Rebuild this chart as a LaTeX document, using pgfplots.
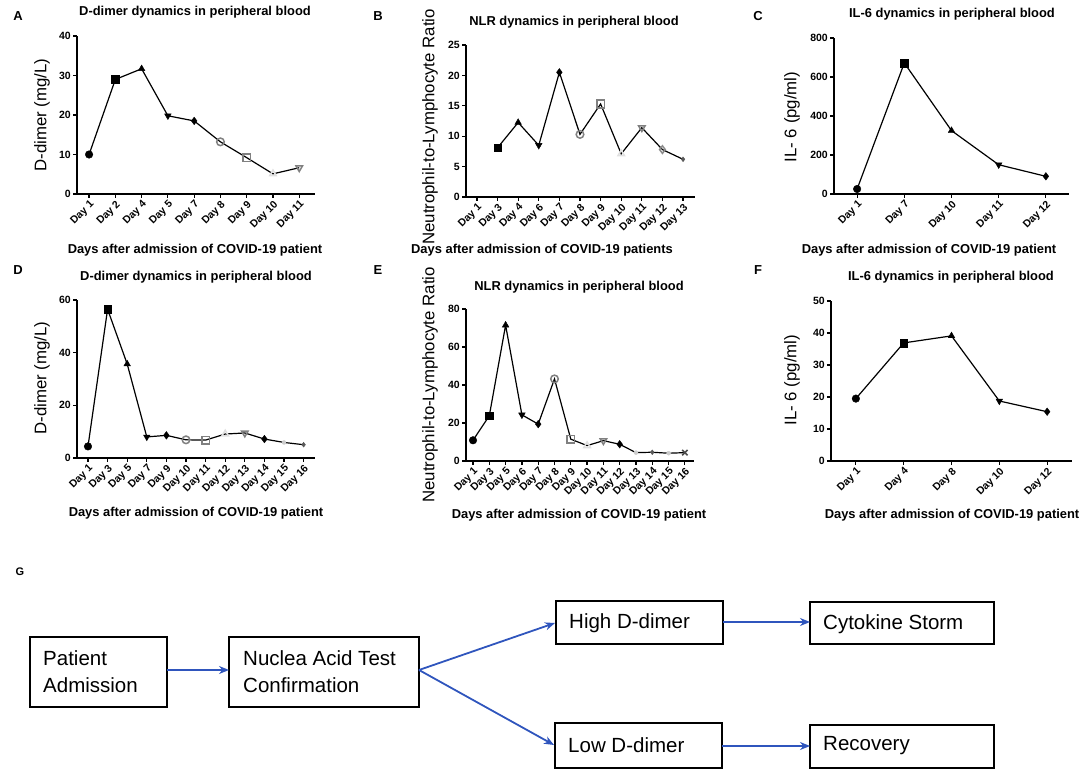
\documentclass[border=0pt]{standalone}
\usepackage{pgfplots}
\pgfplotsset{compat=1.18}
\usepackage{pgfplotstable}
\usepackage{fontspec}
\setmainfont{Liberation Sans}
\usetikzlibrary{arrows.meta}
\definecolor{flowblue}{RGB}{47,85,189}

\pgfdeclareplotmark{tridown*}{%
  \pgfpathmoveto{\pgfqpoint{0pt}{-\pgfplotmarksize}}%
  \pgfpathlineto{\pgfqpointpolar{30}{\pgfplotmarksize}}%
  \pgfpathlineto{\pgfqpointpolar{150}{\pgfplotmarksize}}%
  \pgfpathclose\pgfusepathqfillstroke}
\pgfdeclareplotmark{tridown}{%
  \pgfpathmoveto{\pgfqpoint{0pt}{-\pgfplotmarksize}}%
  \pgfpathlineto{\pgfqpointpolar{30}{\pgfplotmarksize}}%
  \pgfpathlineto{\pgfqpointpolar{150}{\pgfplotmarksize}}%
  \pgfpathclose\pgfusepathqstroke}

\pgfplotstableread{
x y m
0 10 a
1 29 b
2 31.7 c
3 19.8 d
4 18.5 e
5 13.2 f
6 9.2 g
7 5.1 h
8 6.65 i
}\dataA
\pgfplotstableread{
x y m
1 8.1 b
2 12.25 c
3 8.5 d
4 20.5 e
5 10.3 f
6 15.3 g
7 7.1 h
8 11.4 i
9 7.8 j
10 6.2 k
}\dataB
\pgfplotstableread{
x y m
0 25.6 a
1 672 b
2 325 c
3 150 d
4 90.6 e
}\dataC
\pgfplotstableread{
x y m
0 4.4 a
1 56.5 b
2 35.7 c
3 8.0 d
4 8.6 e
5 6.9 f
6 6.8 g
7 9.1 h
8 9.5 i
9 7.2 e
10 5.9 l
11 5.05 k
}\dataD
\pgfplotstableread{
x y m
0 10.9 a
1 23.8 b
2 71.5 c
3 24.3 d
4 19.4 e
5 43.2 f
6 11.5 g
7 8.1 h
8 10.7 i
9 8.8 e
10 4.4 l
11 4.6 k
12 4.1 l
13 4.4 n
}\dataE
\pgfplotstableread{
x y m
0 19.5 a
1 36.9 b
2 39.1 c
3 18.75 d
4 15.4 e
}\dataF

\pgfplotsset{
  gp/.style={
    scale only axis, anchor=south west, clip=false,
    axis lines=left, axis line style={-, line width=1.4pt},
    tick style={black, line width=1.2pt}, tick align=outside,
    major tick length=4pt,
    ymin=0,
    /pgf/number format/assume math mode=true,
    ticklabel style={font=\bfseries\fontsize{10.5}{11}\selectfont},
    xticklabel style={rotate=45, anchor=north east, inner sep=1pt},
    yticklabel style={inner sep=2pt},
  },
  gpline/.style={line width=1.2pt, black, no marks},
  gpmarks/.style={
    scatter, only marks, scatter src=explicit symbolic, mark size=3.8pt,
    scatter/classes={
      a={mark=*, draw=black, fill=black},
      b={mark=square*, draw=black, fill=black},
      c={mark=triangle*, draw=black, fill=black},
      d={mark=tridown*, draw=black, fill=black},
      e={mark=diamond*, draw=black, fill=black},
      f={mark=o, draw=black!50, line width=1.5pt},
      g={mark=square, draw=black!50, line width=1.5pt},
      h={mark=triangle, draw=black!12, line width=1.5pt},
      i={mark=tridown, draw=black!50, line width=1.5pt},
      j={mark=diamond, draw=black!45, line width=1.5pt},
      k={mark=diamond*, draw=black!65, fill=black!65, mark size=2.4pt},
      l={mark=*, draw=black!20, fill=black!20, mark size=2pt},
      n={mark=x, draw=black!70, line width=1.5pt}
    }
  }
}

\newcommand{\titlefont}{\bfseries\fontsize{12.9}{15}\selectfont}
\newcommand{\ylabfont}{\fontsize{16.8}{19}\selectfont}
\newcommand{\letterfont}{\bfseries\fontsize{13}{15}\selectfont}

\begin{document}
\begin{tikzpicture}
% ---------- A
\begin{axis}[gp, at={(77pt,577pt)}, width=238pt, height=158pt,
  xmin=-0.46, xmax=8.6, ymax=40, ytick={0,10,20,30,40},
  xtick={0,...,8},
  xticklabels={Day 1,Day 2,Day 4,Day 5,Day 7,Day 8,Day 9,Day 10,Day 11}]
\addplot[gpline] table[x=x,y=y] {\dataA};
\addplot[gpmarks] table[x=x,y=y,meta=m] {\dataA};
\end{axis}
% ---------- B
\begin{axis}[gp, at={(466pt,574pt)}, width=229pt, height=152pt,
  xmin=-0.53, xmax=10.58, ymax=25, ytick={0,5,10,15,20,25},
  xtick={0,...,10},
  xticklabels={Day 1,Day 3,Day 4,Day 6,Day 7,Day 8,Day 9,Day 10,Day 11,Day 12,Day 13}]
\addplot[gpline] table[x=x,y=y] {\dataB};
\addplot[gpmarks] table[x=x,y=y,meta=m] {\dataB};
\end{axis}
% ---------- C
\begin{axis}[gp, at={(834pt,577pt)}, width=235pt, height=156pt,
  xmin=-0.49, xmax=4.49, ymax=800, ytick={0,200,400,600,800},
  xtick={0,...,4},
  xticklabels={Day 1,Day 7,Day 10,Day 11,Day 12}]
\addplot[gpline] table[x=x,y=y] {\dataC};
\addplot[gpmarks] table[x=x,y=y,meta=m] {\dataC};
\end{axis}
% ---------- D
\begin{axis}[gp, at={(77pt,313pt)}, width=238pt, height=158pt,
  xmin=-0.56, xmax=11.58, ymax=60, ytick={0,20,40,60},
  xtick={0,...,11},
  xticklabels={Day 1,Day 3,Day 5,Day 7,Day 9,Day 10,Day 11,Day 12,Day 13,Day 14,Day 15,Day 16}]
\addplot[gpline] table[x=x,y=y] {\dataD};
\addplot[gpmarks] table[x=x,y=y,meta=m] {\dataD};
\end{axis}
% ---------- E
\begin{axis}[gp, at={(466pt,310pt)}, width=228pt, height=152pt,
  xmin=-0.43, xmax=13.56, ymax=80, ytick={0,20,40,60,80},
  xtick={0,...,13},
  xticklabels={Day 1,Day 3,Day 5,Day 6,Day 7,Day 8,Day 9,Day 10,Day 11,Day 12,Day 13,Day 14,Day 15,Day 16}]
\addplot[gpline] table[x=x,y=y] {\dataE};
\addplot[gpmarks] table[x=x,y=y,meta=m] {\dataE};
\end{axis}
% ---------- F
\begin{axis}[gp, at={(831pt,310pt)}, width=241pt, height=160pt,
  xmin=-0.52, xmax=4.52, ymax=50, ytick={0,10,20,30,40,50},
  xtick={0,...,4},
  xticklabels={Day 1,Day 4,Day 8,Day 10,Day 12}]
\addplot[gpline] table[x=x,y=y] {\dataF};
\addplot[gpmarks] table[x=x,y=y,meta=m] {\dataF};
\end{axis}

% ---------- letters
\node[font=\letterfont] at (18pt,755pt) {A};
\node[font=\letterfont] at (378pt,755pt) {B};
\node[font=\letterfont] at (758pt,755pt) {C};
\node[font=\letterfont] at (18pt,501pt) {D};
\node[font=\letterfont] at (378pt,501pt) {E};
\node[font=\letterfont] at (758pt,501pt) {F};
\node[font=\bfseries\fontsize{11}{13}\selectfont] at (20pt,199pt) {G};

% ---------- titles
\node[font=\titlefont] at (195pt,759pt) {D-dimer dynamics in peripheral blood};
\node[font=\titlefont] at (574pt,749pt) {NLR dynamics in peripheral blood};
\node[font=\titlefont] at (952pt,757pt) {IL-6 dynamics in peripheral blood};
\node[font=\titlefont] at (196pt,494pt) {D-dimer dynamics in peripheral blood};
\node[font=\titlefont] at (579pt,484pt) {NLR dynamics in peripheral blood};
\node[font=\titlefont] at (951pt,494pt) {IL-6 dynamics in peripheral blood};

% ---------- y labels
\node[font=\ylabfont, rotate=90] at (42pt,656pt) {D-dimer (mg/L)};
\node[font=\ylabfont, rotate=90] at (430pt,644pt) {Neutrophil-to-Lymphocyte Ratio};
\node[font=\ylabfont, rotate=90] at (792pt,654pt) {IL- 6 (pg/ml)};
\node[font=\ylabfont, rotate=90] at (42pt,393pt) {D-dimer (mg/L)};
\node[font=\ylabfont, rotate=90] at (430pt,386pt) {Neutrophil-to-Lymphocyte Ratio};
\node[font=\ylabfont, rotate=90] at (792pt,391pt) {IL- 6 (pg/ml)};

% ---------- x labels
\node[font=\titlefont] at (195pt,521pt) {Days after admission of COVID-19 patient};
\node[font=\titlefont] at (542pt,521pt) {Days after admission of COVID-19 patients};
\node[font=\titlefont] at (929pt,521pt) {Days after admission of COVID-19 patient};
\node[font=\titlefont] at (196pt,258pt) {Days after admission of COVID-19 patient};
\node[font=\titlefont] at (579pt,256pt) {Days after admission of COVID-19 patient};
\node[font=\titlefont] at (952pt,256pt) {Days after admission of COVID-19 patient};

% ---------- flowchart G
\begin{scope}[line width=1.3pt]
\draw (30pt,134pt) rectangle (167pt,64pt);
\draw (229pt,134pt) rectangle (419pt,64pt);
\draw (556pt,170pt) rectangle (723pt,127pt);
\draw (810pt,169pt) rectangle (994pt,127pt);
\draw (555pt,48pt) rectangle (722pt,3pt);
\draw (810pt,46pt) rectangle (994pt,3pt);
\end{scope}
\begin{scope}[font=\fontsize{20.5}{27}\selectfont]
\node[anchor=west, align=left, inner sep=0pt] at (43pt,99pt) {Patient\\Admission};
\node[anchor=west, align=left, inner sep=0pt] at (243pt,99pt) {Nuclea Acid Test\\Confirmation};
\node[anchor=west, inner sep=0pt] at (569pt,148pt) {High D-dimer};
\node[anchor=west, inner sep=0pt] at (823pt,147pt) {Cytokine Storm};
\node[anchor=west, inner sep=0pt] at (568pt,26pt) {Low D-dimer};
\node[anchor=west, inner sep=0pt] at (823pt,25pt) {Recovery};
\end{scope}
\begin{scope}[flowblue, line width=1.8pt, -{Stealth[length=10pt,width=8pt]}]
\draw (167pt,101pt) -- (229pt,101pt);
\draw (419pt,101pt) -- (555pt,148pt);
\draw (419pt,101pt) -- (554pt,26pt);
\draw (723pt,149pt) -- (810pt,149pt);
\draw (722pt,25pt) -- (810pt,25pt);
\end{scope}

\pgfresetboundingbox
\path[use as bounding box] (0pt,0pt) rectangle (1084pt,771pt);
\end{tikzpicture}
\end{document}
